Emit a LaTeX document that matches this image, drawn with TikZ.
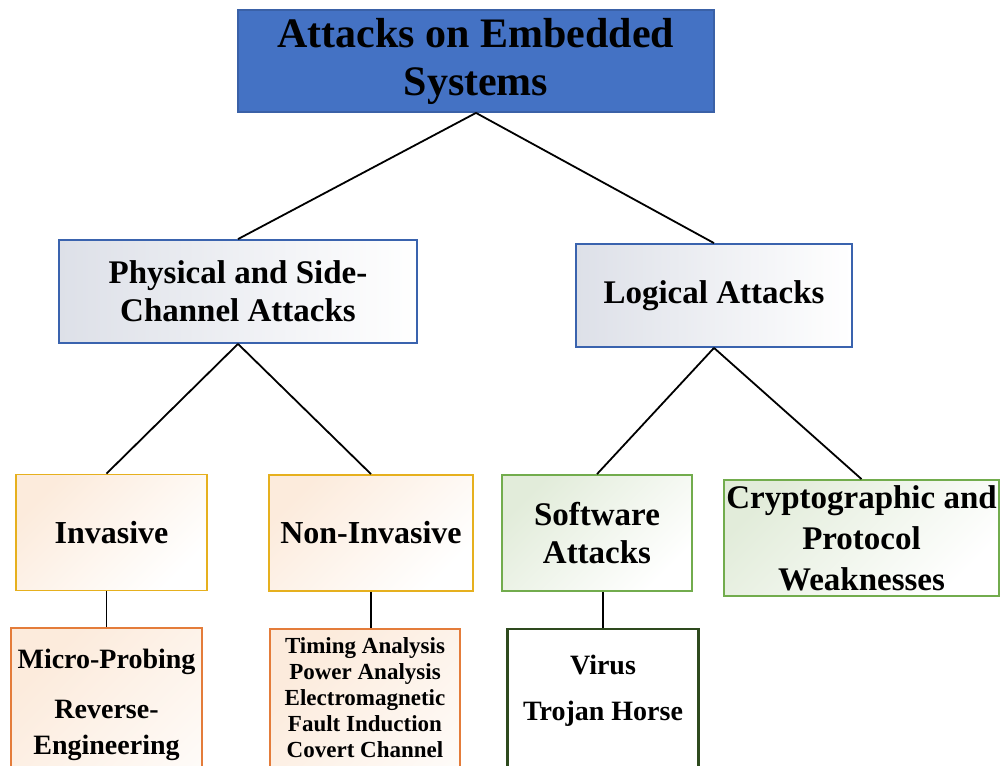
\documentclass[tikz,border=0pt]{standalone}
\usepackage{fontspec}
\setmainfont{Liberation Serif}
\usetikzlibrary{positioning}
\definecolor{tblue}{HTML}{4472C4}
\definecolor{tblued}{HTML}{3A63AE}
\definecolor{tgold}{HTML}{E6B01E}
\definecolor{torange}{HTML}{E47C3A}
\definecolor{tgreen}{HTML}{72AC4D}
\definecolor{tgreend}{HTML}{2E4A1E}
\definecolor{tpeach}{HTML}{FCEBDC}
\definecolor{tmint}{HTML}{E2ECDA}
\definecolor{tmist}{HTML}{DDE0E8}

\begin{document}
\begin{tikzpicture}[x=0.5pt, y=-0.5pt,
  box/.style={draw, align=center, inner sep=0pt, line width=0.9pt},
  head/.style={box, draw=tblue!85!black, fill=tblue, minimum width=238pt, minimum height=51pt,
               font=\bfseries\fontsize{21}{24}\selectfont},
  kind/.style={box, draw=tblued, minimum height=51.5pt, left color=tmist, right color=white,
               font=\bfseries\fontsize{16.5}{19}\selectfont},
  phys/.style={box, draw=tgold, minimum height=58pt, top color=tpeach, bottom color=white,
               shading angle=45, font=\bfseries\fontsize{16}{19}\selectfont},
  logi/.style={box, draw=tgreen, minimum height=58pt, top color=tmint, bottom color=white,
               shading angle=45, font=\bfseries\fontsize{16.5}{20.5}\selectfont},
  leaf/.style={box, anchor=north, text depth=60pt, minimum width=95.5pt},
  link/.style={line width=0.9pt}]
  \useasboundingbox (0,0) rectangle (1000,765);
  \clip (0,0) rectangle (1000,765);
  \node[head] (top) at (476,61) {Attacks on Embedded\\Systems};
  \node[kind, minimum width=179pt] (side) at (238,291.5) {Physical and Side-\\Channel Attacks};
  \node[kind, minimum width=138pt] (logic) at (714,295.5) {Logical Attacks};
  \node[phys, minimum width=95.5pt] (inv) at (111.5,532.5) {Invasive};
  \node[phys, minimum width=102pt] (noninv) at (371,533) {Non-Invasive};
  \node[logi, minimum width=95pt, font=\bfseries\fontsize{16.5}{19}\selectfont] (soft) at (597,533) {Software\\Attacks};
  \node[logi, minimum width=137.5pt] (crypto) at (861.5,538) {Cryptographic and\\Protocol\\Weaknesses};
  \node[leaf, draw=torange, top color=tpeach, bottom color=white, shading angle=45, inner ysep=10.5pt,
        font=\bfseries\fontsize{14}{18}\selectfont] (micro) at (106.5,627) {Micro-Probing\\[7pt]Reverse-\\Engineering};
  \node[leaf, draw=torange, top color=tpeach, bottom color=white, shading angle=45, inner ysep=4.2pt,
        minimum width=95pt, font=\bfseries\fontsize{11.5}{13}\selectfont] (sidech) at (365,628)
        {Timing Analysis\\Power Analysis\\Electromagnetic\\Fault Induction\\Covert Channel};
  \node[leaf, draw=tgreend, fill=white, line width=1.1pt, inner ysep=12.8pt,
        font=\bfseries\fontsize{14}{18}\selectfont] (malware) at (603,628) {Virus\\[5pt]Trojan Horse};
  \draw[link] (top.south) -- (side.north);
  \draw[link] (top.south) -- (logic.north);
  \draw[link] (side.south) -- (micro.north |- inv.north);
  \draw[link] (side.south) -- (noninv.north);
  \draw[link] (logic.south) -- (soft.north);
  \draw[link] (logic.south) -- (crypto.north);
  \draw[link] (micro.north) -- (micro.north |- inv.south);
  \draw[link] (noninv.south) -- (noninv.south |- sidech.north);
  \draw[link] (malware.north) -- (malware.north |- soft.south);
\end{tikzpicture}
\end{document}
